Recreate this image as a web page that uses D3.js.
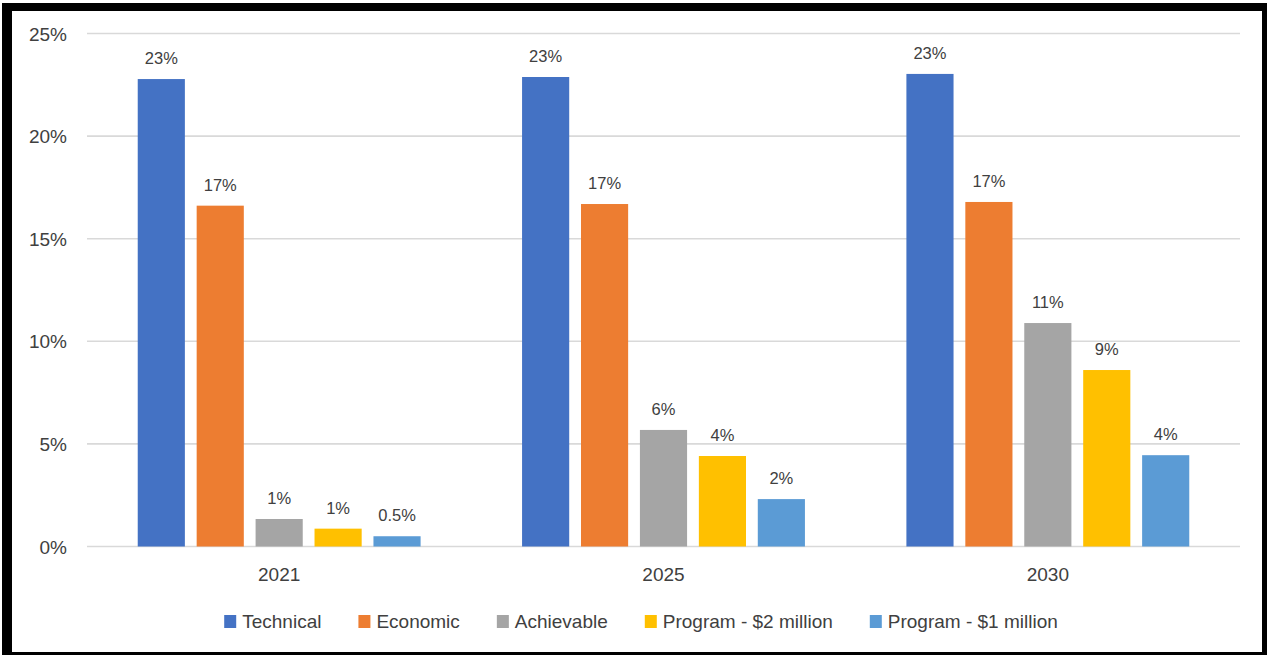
<!DOCTYPE html>
<html>
<head>
<meta charset="utf-8">
<script src="https://cdn.jsdelivr.net/npm/d3@7"></script>
<style>
  html, body { margin: 0; padding: 0; background: #ffffff; }
  svg { display: block; }
  text { font-family: "Liberation Sans", Arial, sans-serif; fill: #404040; }
</style>
</head>
<body>
<svg id="chart" width="1267" height="655"></svg>
<script>
// Share of load by potential type and year
const years = ["2021", "2025", "2030"];
const seriesNames = ["Technical", "Economic", "Achievable", "Program - $2 million", "Program - $1 million"];
const technical = [22.78, 22.88, 23.03];
const economic = [16.61, 16.69, 16.79];
const achievable = [1.34, 5.68, 10.89];
const program2m = [0.87, 4.41, 8.60];
const program1m = [0.5, 2.31, 4.45];
const yTicks = [0, 5, 10, 15, 20, 25];
const colors = ["#4472C4", "#ED7D31", "#A5A5A5", "#FFC000", "#5B9BD5"];

const seriesValues = [technical, economic, achievable, program2m, program1m];

const W = 1267, H = 655;
const svg = d3.select("#chart");

// Black frame around the white chart area
svg.append("rect").attr("x", 2).attr("y", 3).attr("width", W - 2).attr("height", H - 3).attr("fill", "#000");
svg.append("rect").attr("x", 12).attr("y", 11).attr("width", 1250).attr("height", 641).attr("fill", "#fff");

const plot = { left: 87, right: 1240, top: 33.5, bottom: 546.5 };

const y = d3.scaleLinear().domain([0, 25]).range([plot.bottom, plot.top]);
const x0 = d3.scaleBand().domain(years).range([plot.left, plot.right])
  .paddingInner(0.264).paddingOuter(0.132);
const x1 = d3.scaleBand().domain(seriesNames).range([0, x0.bandwidth()])
  .paddingInner(0.2).paddingOuter(0);

// Horizontal gridlines
svg.append("g").selectAll("line").data(yTicks).join("line")
  .attr("x1", plot.left).attr("x2", plot.right)
  .attr("y1", d => y(d)).attr("y2", d => y(d))
  .attr("stroke", "#d9d9d9").attr("stroke-width", 1.6);

// Y axis labels
const yAxis = d3.axisLeft(y).tickValues(yTicks).tickSize(0).tickPadding(0)
  .tickFormat(d => d + "%");
const gy = svg.append("g").attr("transform", "translate(67,0.5)").call(yAxis);
gy.select(".domain").remove();
gy.selectAll("text").style("font-size", "19px").style("fill", "#404040")
  .style("font-family", '"Liberation Sans", Arial, sans-serif');

// X axis category labels
const xAxis = d3.axisBottom(x0).tickSize(0).tickPadding(0);
const gx = svg.append("g").attr("transform", `translate(0,${plot.bottom + 21})`).call(xAxis);
gx.select(".domain").remove();
gx.selectAll("text").style("font-size", "19px").style("fill", "#404040")
  .style("font-family", '"Liberation Sans", Arial, sans-serif');

// Bars grouped by year
const rows = years.map((yr, i) => ({
  year: yr,
  values: seriesNames.map((s, k) => ({ series: s, k, value: seriesValues[k][i] }))
}));

// Whole percent, except values under three quarters of a percent
const fmt = v => (v >= 0.75 ? Math.round(v).toString() : v.toFixed(1)) + "%";

const groups = svg.append("g").selectAll("g").data(rows).join("g")
  .attr("transform", d => `translate(${x0(d.year)},0)`);

groups.selectAll("rect").data(d => d.values).join("rect")
  .attr("x", d => x1(d.series))
  .attr("width", x1.bandwidth())
  .attr("y", d => y(d.value))
  .attr("height", d => y(0) - y(d.value))
  .attr("fill", d => colors[d.k]);

groups.selectAll("text.lbl").data(d => d.values).join("text")
  .attr("class", "lbl")
  .attr("x", d => x1(d.series) + x1.bandwidth() / 2)
  .attr("y", d => y(d.value) - 15)
  .attr("text-anchor", "middle")
  .style("font-size", "16.5px")
  .text(d => fmt(d.value));

// Legend, laid out left to right and centred under the chart
const legend = svg.append("g");
const items = legend.selectAll("g").data(seriesNames).join("g");
items.append("rect").attr("width", 12).attr("height", 13).attr("y", -13)
  .attr("fill", (d, i) => colors[i]);
items.append("text").attr("x", 18).attr("y", 0)
  .style("font-size", "19px").text(d => d);

let cursor = 0;
items.each(function () {
  const g = d3.select(this);
  g.attr("transform", `translate(${cursor},0)`);
  const tw = g.select("text").node().getComputedTextLength();
  cursor += 18 + tw + 37;
});
const totalW = cursor - 37;
legend.attr("transform", `translate(${641 - totalW / 2},628)`);
</script>
</body>
</html>
